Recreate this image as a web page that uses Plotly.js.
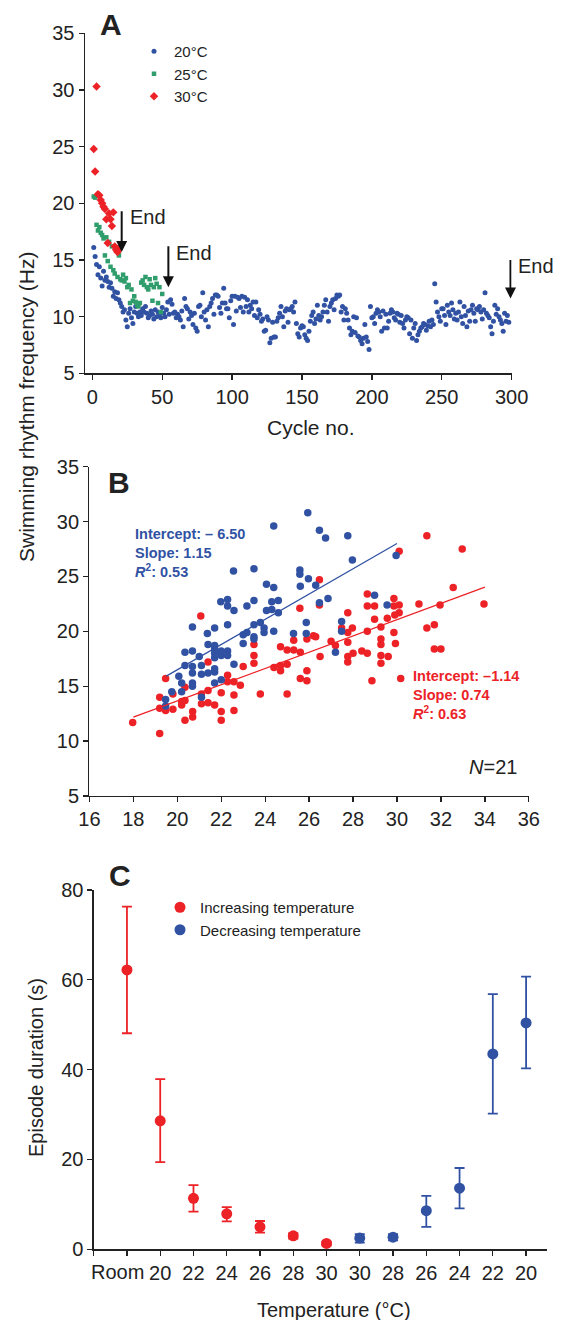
<!DOCTYPE html>
<html>
<head>
<meta charset="utf-8">
<script src="https://cdn.plot.ly/plotly-3.0.1.min.js"></script>
<style>html,body{margin:0;padding:0;background:#fff;}#chart{width:561px;height:1320px;}</style>
</head>
<body>
<div id="chart"></div>
<script>
// ---------- Panel A data: swimming frequency (Hz) per cycle ----------
const blueFreqA = [
16.1,15.3,14.6,13.7,14.4,13.4,12.7,14.0,13.2,13.5,
13.1,12.6,13.0,12.5,11.8,12.2,11.6,12.1,11.5,11.2,
10.9,10.4,10.6,9.7,9.1,10.3,10.7,9.9,9.4,10.4,
10.9,10.3,10.0,10.4,10.1,10.7,10.4,10.9,10.3,9.9,
10.1,10.5,10.2,9.8,10.6,10.0,10.4,10.1,9.9,10.8,
10.3,10.0,10.6,11.3,10.2,11.5,11.1,10.3,10.4,9.9,
10.2,10.0,9.7,10.5,9.1,11.6,10.9,10.7,9.8,10.4,
10.1,9.3,10.3,9.0,8.7,10.9,11.0,10.0,12.1,10.4,
9.7,10.6,9.1,10.9,11.2,11.6,10.2,11.9,11.9,11.8,
10.8,10.3,11.2,12.5,11.2,10.7,10.7,9.9,11.4,11.8,
9.3,11.8,10.5,11.7,11.6,10.8,11.8,10.4,11.7,10.9,
11.5,10.4,11.0,10.7,11.3,10.1,11.3,9.9,10.6,10.2,
9.6,9.8,8.7,8.8,10.0,9.7,7.7,8.1,9.5,8.2,
8.2,9.6,9.9,10.3,10.9,10.0,9.1,10.5,10.7,9.5,
10.6,10.7,10.9,10.4,11.3,9.4,8.5,8.2,9.0,9.2,
9.1,8.4,8.1,7.9,8.7,9.6,10.1,10.4,9.4,9.8,
11.0,10.1,9.7,10.0,10.4,11.0,11.5,10.4,9.6,10.9,
11.2,11.5,10.6,11.6,11.9,11.8,11.9,10.4,10.9,9.7,
10.7,10.3,9.7,9.0,8.4,8.7,10.0,8.6,9.9,8.3,
8.2,7.9,7.6,8.1,9.3,8.2,7.8,7.1,10.9,9.9,
10.0,9.4,10.3,10.6,10.4,10.0,8.7,10.5,9.0,10.2,
9.0,9.6,10.3,10.6,10.4,9.9,9.7,10.3,10.2,9.5,
10.1,9.4,9.0,9.7,10.0,9.9,8.5,9.7,8.1,9.0,
9.4,7.9,8.4,8.7,9.0,9.1,9.4,9.3,8.8,9.2,
9.6,9.1,9.7,9.3,12.9,11.3,10.4,10.0,9.6,10.7,
10.7,10.1,9.3,11.0,10.4,10.1,11.2,10.6,9.8,10.3,
9.7,10.4,11.3,10.0,9.4,10.9,10.1,9.1,10.5,9.6,
10.6,11.0,10.3,9.6,10.7,10.6,10.9,10.4,9.8,10.6,
12.1,10.3,10.1,9.9,9.1,8.5,9.6,11.0,10.2,10.7,
10.0,9.7,9.4,8.7,10.3,9.6,10.1,9.5
];
const greenFreqA = [20.6,20.5,18.1,17.6,17.9,17.4,17.2,16.9,15.4,17.0,
14.9,16.6,14.4,16.2,14.1,13.8,15.9,13.5,15.4,13.3,
13.2,13.7,13.1,13.4,12.6,12.8,11.2,12.4,11.4,11.8,
11.3,11.0,10.9,11.2,13.0,13.2,12.8,13.5,12.6,12.4,
13.3,12.8,11.4,12.6,13.4,12.9,11.2,12.6,10.4,12.0];
const redFreqA = [24.8,22.8,30.3,20.8,20.7,20.3,20.0,19.7,19.5,18.6,16.5,19.1,18.6,18.0,19.2,16.2,15.9,15.7,16.0];
const seriesNamesA = ['20°C','25°C','30°C'];
const endCycles = [21, 54.4, 299.2];       // cycle of each "End" arrow
const endTop = [19.3, 16.2, 15.0];
const endTip = [15.7, 12.6, 11.6];
const xTicksA = [0,50,100,150,200,250,300];

// ---------- Panel B data: temperature (°C) vs frequency (Hz) ----------
const blueTempB = [25.94,24.39,26.47,26.75,27.76,27.97,29.96,22.56,23.49,25.58,25.58,25.97,25.6,26.3,24.06,24.39,
26.86,26.47,28.98,29.55,21.98,22.29,22.29,22.58,23.17,23.49,24.06,24.3,24.6,24.3,24.6,
20.69,21.37,21.7,22.29,23.0,23.17,23.49,23.78,23.49,23.95,23.95,24.39,25.29,25.87,25.87,27.48,27.48,
19.47,19.47,19.75,20.2,20.07,20.2,20.35,20.35,20.69,20.69,20.69,20.69,20.69,21.0,21.1,21.1,21.1,21.4,21.4,
21.7,21.7,21.7,21.7,21.7,21.7,21.7,22.0,22.0,22.29,22.29,22.0,22.58,23.0,23.49,27.2];
const blueFreqB = [30.8,29.6,29.2,28.5,28.7,26.5,26.9,25.5,25.7,25.6,25.2,24.8,24.1,24.2,24.3,24.0,
23.0,22.6,23.3,22.4,22.7,22.9,22.3,21.9,22.3,22.8,21.9,22.7,22.8,22.0,21.7,
20.4,19.8,20.3,20.6,19.7,19.9,20.6,20.8,19.5,20.3,19.9,20.0,19.8,20.8,19.8,20.9,20.0,
13.8,13.2,14.5,14.5,15.9,15.3,18.1,16.9,18.2,16.8,16.2,15.3,15.0,17.7,16.9,16.1,14.0,18.8,16.2,
18.7,18.4,18.0,17.6,16.6,16.3,15.3,18.2,17.8,18.2,17.8,15.6,17.0,18.9,19.3,18.1];
const redTempB = [21.07,26.47,25.58,26.47,30.1,31.36,32.97,32.56,33.96,31.0,31.96,31.36,31.7,28.65,28.65,28.98,
28.98,29.56,29.86,29.86,30.1,30.1,29.9,27.76,27.97,27.76,28.65,29.27,29.86,27.48,26.3,
17.97,19.2,19.2,19.2,19.47,19.47,19.8,19.8,20.2,20.2,20.35,20.35,20.35,20.7,20.7,21.1,21.1,21.4,21.4,21.4,
21.7,22.0,22.0,22.0,22.29,22.29,22.58,22.58,22.58,22.87,23.0,23.49,23.49,23.49,23.78,24.4,24.7,24.7,24.7,
25.0,25.0,25.0,25.3,25.3,25.6,25.6,25.9,25.9,25.9,26.2,26.5,27.0,27.2,27.76,27.76,27.76,28.0,28.4,28.65,
28.86,29.27,29.27,29.27,29.27,29.6,29.93,30.17,31.7,32.0];
const redFreqB = [21.4,24.7,22.1,22.4,27.3,28.7,27.5,24.0,22.5,22.5,22.4,20.3,20.6,23.4,22.3,22.3,
21.1,21.2,23.0,22.3,22.4,21.7,21.5,21.7,20.3,19.9,20.0,20.4,19.9,20.3,19.5,
11.7,14.0,13.0,10.7,15.7,12.8,14.3,12.9,13.6,13.3,14.9,13.7,11.9,12.7,12.2,14.3,13.4,17.2,14.6,13.5,
13.3,14.4,12.7,11.9,16.0,15.4,15.4,14.2,12.8,15.1,16.8,18.8,17.8,17.1,14.3,16.7,18.6,16.9,16.4,
17.0,14.3,18.3,19.2,18.3,18.1,15.7,16.4,15.5,19.3,19.6,17.7,19.1,18.7,19.0,17.7,17.2,18.0,18.2,18.0,
15.5,19.3,18.8,17.1,17.8,17.7,18.9,15.7,18.4,18.4];
const blueFit = {intercept: -6.50, slope: 1.15, r2: 0.53, xMin: 19.5, xMax: 30.0};
const redFit  = {intercept: -1.14, slope: 0.74, r2: 0.63, xMin: 18.0, xMax: 34.0};

// ---------- Panel C data: episode duration (s) ----------
const tempLabelsC = ['Room','20','22','24','26','28','30','30','28','26','24','22','20'];
const incMean  = [62.2, 28.6, 11.35, 7.9, 5.0, 3.0, 1.3];
const incPlus  = [14.1, 9.3, 2.95, 1.5, 1.3, 0.6, 0.4];
const incMinus = [14.1, 9.2, 2.95, 1.7, 1.3, 0.6, 0.4];
const decMean  = [2.5, 2.7, 8.6, 13.6, 43.5, 50.4];
const decPlus  = [0.9, 0.7, 3.3, 4.5, 13.3, 10.3];
const decMinus = [1.0, 0.7, 3.6, 4.5, 13.3, 10.1];
const seriesNamesC = ['Increasing temperature','Decreasing temperature'];

// ---------- styling ----------
const FONT = 'Liberation Sans, Arial, Helvetica, sans-serif';
const BLUE = '#3152a3', GREEN = '#2f9d6c', RED = '#ec2227', INK = '#222222';
const PX = v => v / 561, PY = v => 1 - v / 1320;
// pixel calibration of panel A x axis (for labels placed beyond the axis end)
const A_X0 = 92.3, A_PPC = 1.3953;
const ROOM_LABEL_SHIFT = -0.28;   // the "Room" label sits a little left of its tick
const SHAFT_GAP = 0.7;            // shaft stops just inside the arrow head

const cyclesOf = (arr, start) => arr.map((_, i) => i + start);
const incX = incMean.map((_, i) => i + 1);
const decX = decMean.map((_, i) => i + 1 + incMean.length);

const traces = [
  {type:'scatter', mode:'markers', x:cyclesOf(blueFreqA,1), y:blueFreqA, name:seriesNamesA[0], xaxis:'x', yaxis:'y',
   marker:{symbol:'circle', size:5, color:BLUE}, cliponaxis:false, legend:'legend'},
  {type:'scatter', mode:'markers', x:cyclesOf(greenFreqA,1), y:greenFreqA, name:seriesNamesA[1], xaxis:'x', yaxis:'y',
   marker:{symbol:'square', size:4.5, color:GREEN}, cliponaxis:false, legend:'legend'},
  {type:'scatter', mode:'markers', x:cyclesOf(redFreqA,1), y:redFreqA, name:seriesNamesA[2], xaxis:'x', yaxis:'y',
   marker:{symbol:'diamond', size:6.5, color:RED}, cliponaxis:false, legend:'legend'}
];
// "End" arrows: shaft (line) + head (arrow marker whose point sits on the data value)
endCycles.forEach((c, i) => {
  traces.push({type:'scatter', mode:'lines', x:[c, c], y:[endTop[i], endTip[i] + SHAFT_GAP], xaxis:'x', yaxis:'y',
    showlegend:false, line:{color:'#111', width:2}, cliponaxis:false, hoverinfo:'skip'});
  traces.push({type:'scatter', mode:'markers', x:[c], y:[endTip[i]], xaxis:'x', yaxis:'y', showlegend:false,
    marker:{symbol:'arrow-down', size:11, color:'#111', line:{width:0}}, cliponaxis:false, hoverinfo:'skip'});
});
traces.push(
  {type:'scatter', mode:'markers', x:redTempB, y:redFreqB, xaxis:'x2', yaxis:'y2', showlegend:false,
   marker:{size:7.5, color:RED}, cliponaxis:false},
  {type:'scatter', mode:'markers', x:blueTempB, y:blueFreqB, xaxis:'x2', yaxis:'y2', showlegend:false,
   marker:{size:7.5, color:BLUE}, cliponaxis:false},
  {type:'scatter', mode:'lines', x:[redFit.xMin, redFit.xMax],
   y:[redFit.intercept + redFit.slope*redFit.xMin, redFit.intercept + redFit.slope*redFit.xMax],
   xaxis:'x2', yaxis:'y2', showlegend:false, line:{color:RED, width:1.3}},
  {type:'scatter', mode:'lines', x:[blueFit.xMin, blueFit.xMax],
   y:[blueFit.intercept + blueFit.slope*blueFit.xMin, blueFit.intercept + blueFit.slope*blueFit.xMax],
   xaxis:'x2', yaxis:'y2', showlegend:false, line:{color:BLUE, width:1.3}},

  {type:'scatter', mode:'markers', x:incX, y:incMean, name:seriesNamesC[0], xaxis:'x3', yaxis:'y3',
   marker:{size:11, color:RED}, cliponaxis:false, legend:'legend2',
   error_y:{type:'data', symmetric:false, array:incPlus, arrayminus:incMinus, color:RED, thickness:1.8, width:5}},
  {type:'scatter', mode:'markers', x:decX, y:decMean, name:seriesNamesC[1], xaxis:'x3', yaxis:'y3',
   marker:{size:11, color:BLUE}, cliponaxis:false, legend:'legend2',
   error_y:{type:'data', symmetric:false, array:decPlus, arrayminus:decMinus, color:BLUE, thickness:1.8, width:5}},
  // empty trace so the overlay axis carrying the "Room" label is drawn
  {type:'scatter', mode:'markers', x:[], y:[], xaxis:'x4', yaxis:'y3', showlegend:false, hoverinfo:'skip'}
);

const axisBase = {showline:true, linecolor:INK, linewidth:1.3, ticks:'outside', ticklen:5, tickwidth:1.3,
  tickcolor:INK, showgrid:false, zeroline:false, tickfont:{family:FONT, size:20, color:INK}, fixedrange:true};

const ann = [];
const txt = (x, y, text, size, extra) => ann.push(Object.assign({xref:'paper', yref:'paper', x:PX(x), y:PY(y),
  xanchor:'center', yanchor:'middle', text:text, showarrow:false, font:{family:FONT, size:size, color:INK}}, extra || {}));

txt(111, 24, '<b>A</b>', 30);
txt(119, 482, '<b>B</b>', 30);
txt(120, 875, '<b>C</b>', 30);
txt(26, 407, 'Swimming rhythm frequency (Hz)', 21, {textangle:-90});
txt(311, 427, 'Cycle no.', 21);
txt(334, 1310, 'Temperature (°C)', 20);
txt(36, 1068, 'Episode duration (s)', 20, {textangle:-90});
txt(519, 767, '<i>N</i>=21', 20, {xanchor:'right'});
txt(133, 553, `<b>Intercept: – ${Math.abs(blueFit.intercept).toFixed(2)}<br>Slope: ${blueFit.slope.toFixed(2)}<br><i>R</i><sup>2</sup>: ${blueFit.r2.toFixed(2)}</b>`,
  14.5, {xanchor:'left', align:'left', font:{family:FONT, size:14.5, color:BLUE}});
txt(411, 695, `<b>Intercept: –${Math.abs(redFit.intercept).toFixed(2)}<br>Slope: ${redFit.slope.toFixed(2)}<br><i>R</i><sup>2</sup>: ${redFit.r2.toFixed(2)}</b>`,
  14.5, {xanchor:'left', align:'left', font:{family:FONT, size:14.5, color:RED}});

endCycles.forEach((c, i) => {
  // label placed in paper space so the last one (past the axis end) is still shown
  ann.push({xref:'paper', yref:'y', x:PX(A_X0 + A_PPC * (c + 4.5)), y:endTop[i] - 0.55, text:'End',
    xanchor:'left', yanchor:'middle', showarrow:false, font:{family:FONT, size:20, color:INK}});
});

const tickPosC = tempLabelsC.map((_, i) => i + 1);
const domC = [PX(93.7), PX(546.7)], rangeC = [0, 13.62];

const layout = {
  width:561, height:1320, margin:{l:0, r:0, t:0, b:0}, paper_bgcolor:'#fff', plot_bgcolor:'#fff',
  font:{family:FONT, color:INK}, showlegend:true,
  xaxis: Object.assign({}, axisBase, {domain:[PX(84.8), PX(511.6)], range:[-5.4, 300], tickvals:xTicksA, anchor:'y'}),
  yaxis: Object.assign({}, axisBase, {domain:[PY(373.3), PY(33.3)], range:[5, 35], dtick:5, tick0:5, anchor:'x'}),
  xaxis2: Object.assign({}, axisBase, {domain:[PX(89.4), PX(528.8)], range:[16, 36], dtick:2, tick0:16, anchor:'y2'}),
  yaxis2: Object.assign({}, axisBase, {domain:[PY(796), PY(466.7)], range:[5, 35], dtick:5, tick0:5, anchor:'x2'}),
  xaxis3: Object.assign({}, axisBase, {domain:domC, range:rangeC, tickangle:0, tickmode:'array',
    tickvals:tickPosC.slice(1), ticktext:tempLabelsC.slice(1), anchor:'y3',
    minor:{tickmode:'array', tickvals:[0, 1], ticks:'outside', ticklen:5, tickwidth:1.3, tickcolor:INK, showgrid:false}}),
  // overlay axis that carries only the first category label, nudged left as in the original figure
  xaxis4: Object.assign({}, axisBase, {domain:domC, range:rangeC, autorange:false, tickangle:0, overlaying:'x3',
    anchor:'y3', side:'bottom', showline:false, tickcolor:'rgba(0,0,0,0)', tickmode:'array',
    tickvals:[tickPosC[0] + ROOM_LABEL_SHIFT], ticktext:[tempLabelsC[0]]}),
  yaxis3: Object.assign({}, axisBase, {domain:[PY(1249.3), PY(890)], range:[0, 80], dtick:20, tick0:0, anchor:'x3'}),
  legend: {x:PX(134), y:PY(35), xanchor:'left', yanchor:'top', bgcolor:'rgba(0,0,0,0)', borderwidth:0,
    font:{family:FONT, size:15, color:INK}, itemclick:false, tracegroupgap:0},
  legend2: {x:PX(160), y:PY(891), xanchor:'left', yanchor:'top', bgcolor:'rgba(0,0,0,0)', borderwidth:0,
    font:{family:FONT, size:15, color:INK}, itemclick:false, tracegroupgap:0},
  annotations: ann
};

Plotly.newPlot('chart', traces, layout, {staticPlot:true, displayModeBar:false});
</script>
</body>
</html>
